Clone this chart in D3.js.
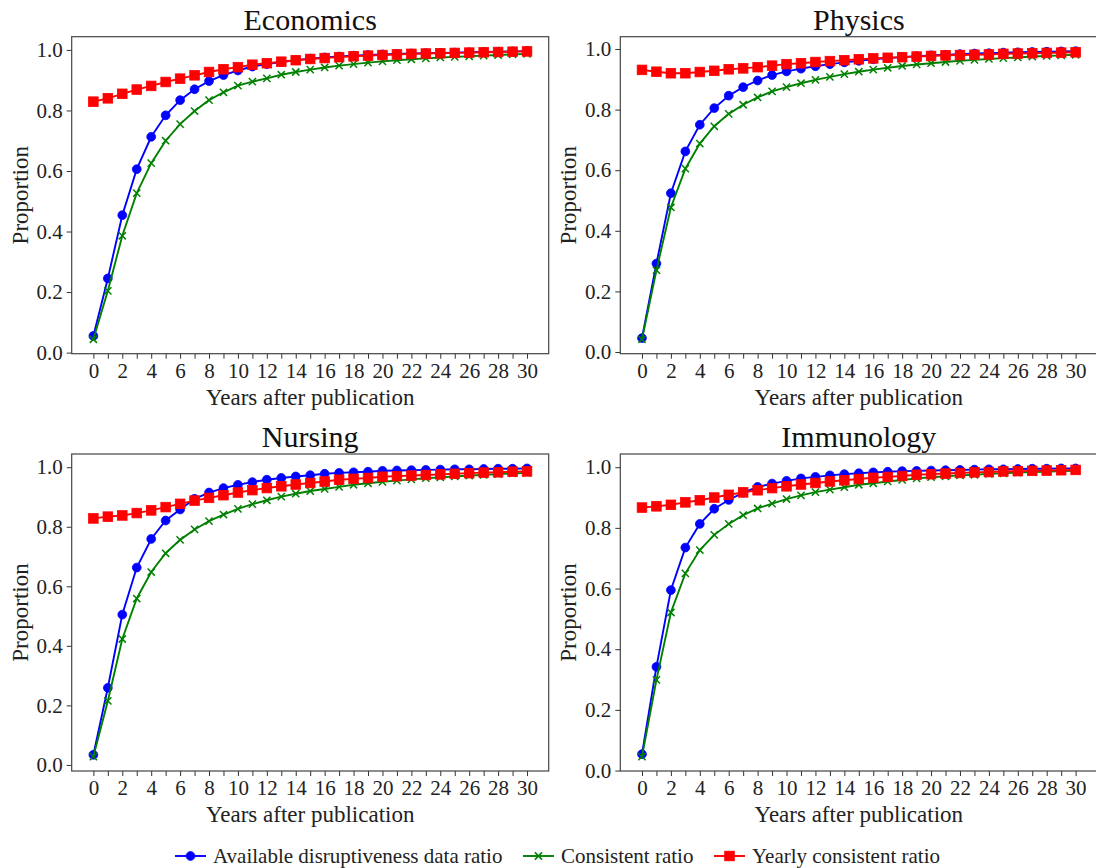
<!DOCTYPE html>
<html>
<head>
<meta charset="utf-8">
<script src="https://cdn.jsdelivr.net/npm/d3@7"></script>
<style>
  html, body { margin: 0; padding: 0; background: #fff; }
  svg { display: block; }
  svg text { font-family: "Liberation Serif", "Times New Roman", serif !important; }
</style>
</head>
<body>
<svg id="chart" width="1096" height="868"></svg>
<script>
// Years after publication (0..30)
const years = d3.range(0, 31);
const xTickLabels = d3.range(0, 31, 2);
const yTicks = [0, 0.2, 0.4, 0.6, 0.8, 1.0];

const fields = ["Economics", "Physics", "Nursing", "Immunology"];

const seriesNames = ["Available disruptiveness data ratio", "Consistent ratio", "Yearly consistent ratio"];

// Economics
const econAvailable = [0.055, 0.245, 0.454, 0.606, 0.713, 0.784, 0.834, 0.870, 0.897, 0.917, 0.932, 0.945, 0.953, 0.960, 0.966, 0.971, 0.975, 0.978, 0.981, 0.983, 0.985, 0.987, 0.988, 0.989, 0.990, 0.991, 0.992, 0.993, 0.994, 0.995, 0.996];
const econConsistent = [0.044, 0.204, 0.386, 0.527, 0.626, 0.700, 0.755, 0.798, 0.834, 0.860, 0.882, 0.895, 0.906, 0.918, 0.927, 0.935, 0.942, 0.948, 0.953, 0.958, 0.962, 0.966, 0.969, 0.972, 0.975, 0.977, 0.979, 0.981, 0.983, 0.985, 0.987];
const econYearly = [0.829, 0.840, 0.855, 0.869, 0.881, 0.894, 0.905, 0.916, 0.927, 0.936, 0.943, 0.951, 0.956, 0.961, 0.966, 0.970, 0.973, 0.976, 0.979, 0.981, 0.983, 0.985, 0.987, 0.988, 0.989, 0.990, 0.991, 0.992, 0.993, 0.994, 0.995];

// Physics
const physAvailable = [0.046, 0.292, 0.524, 0.662, 0.750, 0.805, 0.846, 0.874, 0.896, 0.914, 0.926, 0.935, 0.943, 0.950, 0.956, 0.961, 0.966, 0.970, 0.973, 0.976, 0.979, 0.981, 0.983, 0.985, 0.986, 0.988, 0.989, 0.990, 0.991, 0.992, 0.993];
const physConsistent = [0.042, 0.270, 0.477, 0.605, 0.688, 0.745, 0.786, 0.816, 0.840, 0.860, 0.874, 0.887, 0.898, 0.908, 0.917, 0.925, 0.932, 0.938, 0.944, 0.949, 0.953, 0.957, 0.961, 0.964, 0.967, 0.970, 0.972, 0.975, 0.977, 0.979, 0.981];
const physYearly = [0.931, 0.925, 0.920, 0.920, 0.924, 0.928, 0.933, 0.936, 0.940, 0.945, 0.950, 0.953, 0.957, 0.960, 0.963, 0.966, 0.969, 0.971, 0.973, 0.975, 0.977, 0.979, 0.980, 0.981, 0.982, 0.984, 0.985, 0.986, 0.987, 0.988, 0.989];

// Nursing
const nursAvailable = [0.034, 0.259, 0.505, 0.663, 0.759, 0.821, 0.858, 0.894, 0.915, 0.930, 0.941, 0.950, 0.958, 0.964, 0.969, 0.973, 0.978, 0.981, 0.983, 0.985, 0.988, 0.989, 0.990, 0.991, 0.992, 0.993, 0.993, 0.994, 0.995, 0.995, 0.996];
const nursConsistent = [0.028, 0.215, 0.423, 0.559, 0.648, 0.711, 0.756, 0.791, 0.819, 0.841, 0.860, 0.876, 0.889, 0.901, 0.911, 0.920, 0.927, 0.934, 0.941, 0.946, 0.951, 0.955, 0.959, 0.963, 0.966, 0.969, 0.972, 0.974, 0.977, 0.979, 0.981];
const nursYearly = [0.828, 0.834, 0.838, 0.846, 0.855, 0.866, 0.877, 0.888, 0.897, 0.906, 0.915, 0.923, 0.930, 0.936, 0.942, 0.947, 0.952, 0.958, 0.961, 0.964, 0.968, 0.970, 0.972, 0.974, 0.976, 0.978, 0.980, 0.982, 0.983, 0.985, 0.986];

// Immunology
const immuAvailable = [0.054, 0.342, 0.595, 0.735, 0.813, 0.863, 0.892, 0.916, 0.935, 0.946, 0.955, 0.963, 0.968, 0.973, 0.977, 0.980, 0.983, 0.985, 0.987, 0.988, 0.989, 0.990, 0.991, 0.992, 0.993, 0.993, 0.994, 0.995, 0.995, 0.996, 0.996];
const immuConsistent = [0.046, 0.299, 0.521, 0.650, 0.727, 0.777, 0.813, 0.842, 0.864, 0.880, 0.895, 0.907, 0.918, 0.926, 0.934, 0.942, 0.947, 0.953, 0.958, 0.963, 0.967, 0.970, 0.973, 0.975, 0.978, 0.980, 0.982, 0.984, 0.985, 0.987, 0.988];
const immuYearly = [0.867, 0.871, 0.876, 0.884, 0.891, 0.900, 0.909, 0.917, 0.924, 0.931, 0.937, 0.943, 0.948, 0.953, 0.957, 0.961, 0.965, 0.968, 0.971, 0.975, 0.977, 0.979, 0.981, 0.983, 0.984, 0.986, 0.987, 0.988, 0.989, 0.990, 0.991];

const panelData = [
  [econAvailable, econConsistent, econYearly],
  [physAvailable, physConsistent, physYearly],
  [nursAvailable, nursConsistent, nursYearly],
  [immuAvailable, immuConsistent, immuYearly]
];

const colors = ["#0000ff", "#008000", "#ff0000"];
const markers = ["circle", "x", "square"];

const svg = d3.select("#chart");

// subplot grid
const axW = 477, axH = 317;
const lefts = [71.7, 620.3];
const tops = [36.7, 454];

function drawMarker(g, kind, color) {
  if (kind === "circle") {
    g.append("circle").attr("r", 4.4).attr("fill", color).attr("stroke", color).attr("stroke-width", 0.8);
  } else if (kind === "square") {
    g.append("rect").attr("x", -4.8).attr("y", -4.8).attr("width", 9.6).attr("height", 9.6)
      .attr("fill", color).attr("stroke", color).attr("stroke-width", 0.8);
  } else {
    const s = 3.6;
    g.append("path").attr("d", `M${-s},${-s}L${s},${s}M${-s},${s}L${s},${-s}`)
      .attr("stroke", color).attr("stroke-width", 1.5).attr("fill", "none");
  }
}

fields.forEach((name, i) => {
  const col = i % 2, row = Math.floor(i / 2);
  const x0 = lefts[col], y0 = tops[row];
  const data = panelData[i];

  // auto limits with 5% margins around the data
  const all = data.flat();
  const lo = d3.min(all), hi = d3.max(all);
  const pad = (hi - lo) * 0.05;

  const x = d3.scaleLinear().domain([-1.5, 31.5]).range([0, axW]);
  const y = d3.scaleLinear().domain([lo - pad, hi + pad]).range([axH, 0]);

  const g = svg.append("g").attr("transform", `translate(${x0},${y0})`);

  // x axis: ticks every year, labels every second year
  const xAxis = d3.axisBottom(x).tickValues(years).tickSize(5).tickPadding(4)
    .tickFormat(d => (xTickLabels.includes(d) ? String(d) : ""));
  const gx = g.append("g").attr("transform", `translate(0,${axH})`).call(xAxis)
    .attr("font-family", null).attr("font-size", null);
  gx.select(".domain").remove();
  gx.selectAll("line").attr("stroke", "#333").attr("stroke-width", 1);
  gx.selectAll("text").attr("font-size", 21).attr("fill", "#222");

  const yAxis = d3.axisLeft(y).tickValues(yTicks).tickSize(5).tickPadding(4)
    .tickFormat(d3.format(".1f"));
  const gy = g.append("g").call(yAxis)
    .attr("font-family", null).attr("font-size", null);
  gy.select(".domain").remove();
  gy.selectAll("line").attr("stroke", "#333").attr("stroke-width", 1);
  gy.selectAll("text").attr("font-size", 21).attr("fill", "#222");

  // series: lines then markers, drawn in order so the yearly ratio sits on top
  const line = d3.line().x((d, k) => x(years[k])).y(d => y(d));
  data.forEach((vals, s) => {
    const sg = g.append("g");
    sg.append("path").datum(vals).attr("d", line)
      .attr("fill", "none").attr("stroke", colors[s]).attr("stroke-width", 1.9);
    vals.forEach((v, k) => {
      const m = sg.append("g").attr("transform", `translate(${x(years[k])},${y(v)})`);
      drawMarker(m, markers[s], colors[s]);
    });
  });

  // frame
  g.append("rect").attr("x", 0).attr("y", 0).attr("width", axW).attr("height", axH)
    .attr("fill", "none").attr("stroke", "#444").attr("stroke-width", 1.2);

  // title and axis labels
  g.append("text").attr("x", axW / 2).attr("y", -7).attr("text-anchor", "middle")
    .attr("font-size", 30).attr("fill", "#111").text(name);
  g.append("text").attr("x", axW / 2).attr("y", axH + 51).attr("text-anchor", "middle")
    .attr("font-size", 23).attr("fill", "#222").text("Years after publication");
  g.append("text").attr("transform", `translate(${-44},${axH / 2}) rotate(-90)`)
    .attr("text-anchor", "middle").attr("font-size", 23).attr("fill", "#222").text("Proportion");
});

// shared legend along the bottom
const legendX = [175, 523, 714];
const lg = svg.append("g").attr("transform", "translate(0,856)");
seriesNames.forEach((label, s) => {
  const item = lg.append("g").attr("transform", `translate(${legendX[s]},0)`);
  item.append("line").attr("x1", 0).attr("x2", 31).attr("y1", 0).attr("y2", 0)
    .attr("stroke", colors[s]).attr("stroke-width", 1.9);
  const m = item.append("g").attr("transform", "translate(15.5,0)");
  drawMarker(m, markers[s], colors[s]);
  item.append("text").attr("x", 38).attr("y", 7).attr("font-size", 21).attr("fill", "#222").text(label);
});
</script>
</body>
</html>
